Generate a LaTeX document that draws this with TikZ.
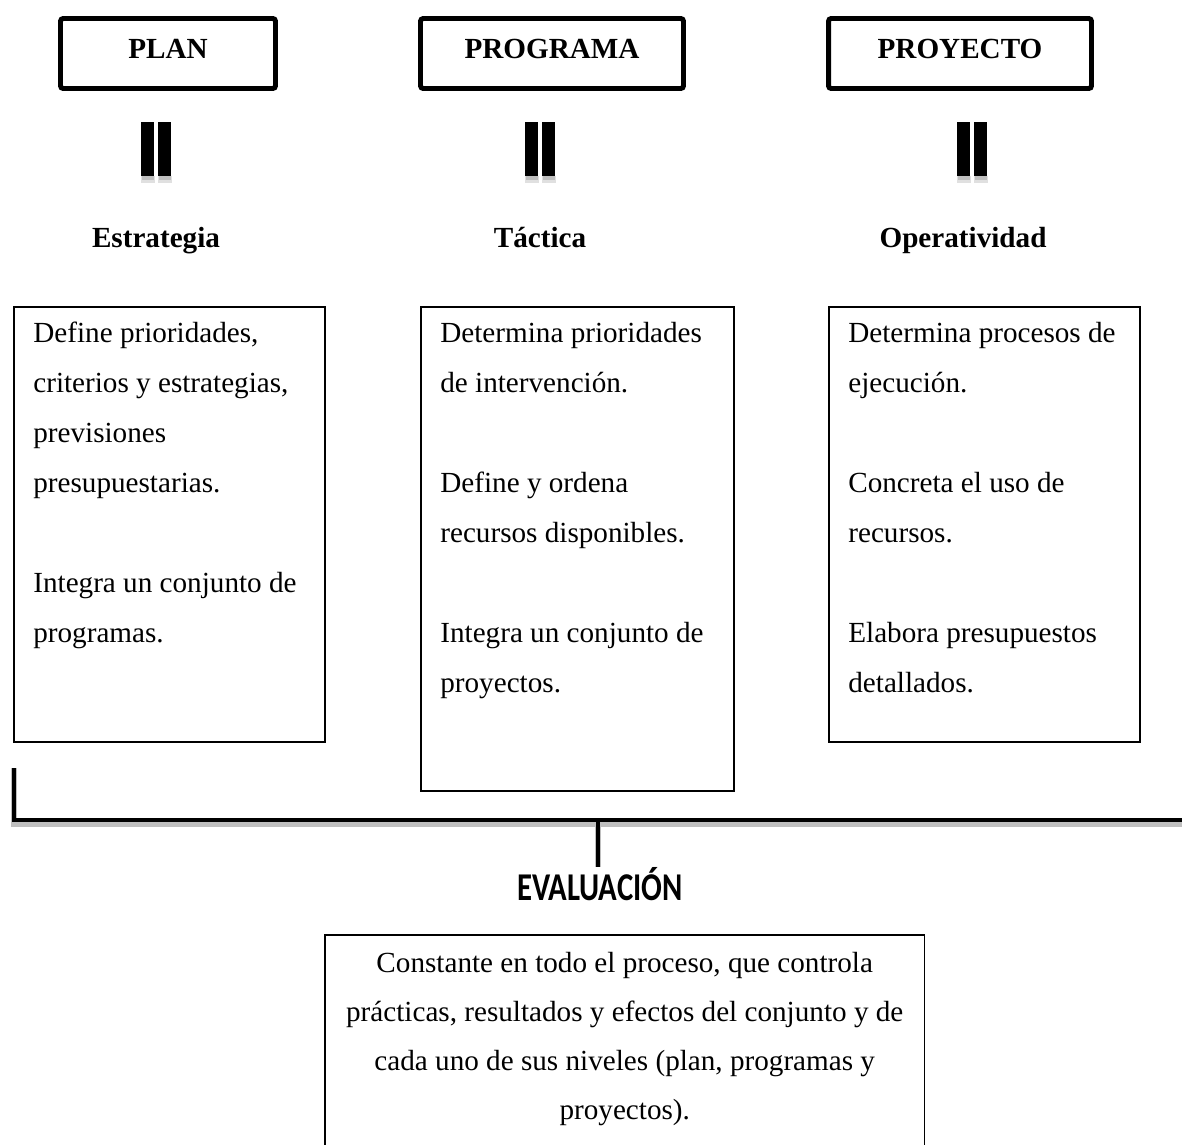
\documentclass[tikz,border=0pt]{standalone}
\usepackage{fontspec}
\usepackage{graphicx}
\setmainfont{Liberation Serif}
\newfontfamily\evalfont{Carlito}
\usetikzlibrary{calc}

\tikzset{
  levelbox/.style={draw, line width=2.8pt, rounded corners=1.5pt, inner sep=0pt,
    text height=0.79cm, text depth=0.61cm, anchor=base,
    font=\bfseries\fontsize{16.6}{20}\selectfont},
  textbox/.style={draw, line width=0.9pt, inner sep=0pt, anchor=north west},
  body/.style={anchor=base west, inner sep=0pt, font=\fontsize{16.6}{20}\selectfont},
  head/.style={anchor=base, inner sep=0pt, font=\bfseries\fontsize{16.6}{20}\selectfont},
  bracket/.style={line width=2.8pt},
  shadowline/.style={black!25, line width=3.4pt, shift={(2,4)}}
}

\begin{document}
\begin{tikzpicture}[x=0.02cm, y=-0.02cm]
    \useasboundingbox (0,0) rectangle (1182,1144);

    % --- Top row: the three levels ---
    \node[levelbox, minimum width=4.3cm] (plan) at (168,58) {PLAN};
    \node[levelbox, minimum width=5.26cm] (programa) at (552,58) {PROGRAMA};
    \node[levelbox, minimum width=5.26cm] (proyecto) at (960,58) {PROYECTO};

    % Equal signs (vertical bars with a soft shadow)
    \foreach \cx in {156,540,972} {
        \fill[black!12] (\cx-15,176) rectangle (\cx-1,183);
        \fill[black!12] (\cx+2,176) rectangle (\cx+16,183);
        \fill[black!25] (\cx-14,176) rectangle (\cx-2,180);
        \fill[black!25] (\cx+3,176) rectangle (\cx+15,180);
        \fill (\cx-15,122) rectangle (\cx-2,176);
        \fill (\cx+2,122) rectangle (\cx+15,176);
    }

    \node[head] (estrategia) at (156,247) {Estrategia};
    \node[head] (tactica) at (540,247) {Táctica};
    \node[head] (operatividad) at (963,247) {Operatividad};

    % --- Description boxes ---
    \node[textbox, minimum width=6.22cm, minimum height=8.7cm] (planbox) at (13,306) {};
    \node[textbox, minimum width=6.26cm, minimum height=9.68cm] (progbox) at (420,306) {};
    \node[textbox, minimum width=6.22cm, minimum height=8.7cm] (proybox) at (828,306) {};

    \foreach \txt [count=\k from 0] in {{Define prioridades,},{criterios y estrategias,},{previsiones},{presupuestarias.},{},{Integra un conjunto de},{programas.}}
        \node[body] (plan-\k) at ($(planbox.north west)+(20,36+50*\k)$) {\txt};
    \foreach \txt [count=\k from 0] in {{Determina prioridades},{de intervención.},{},{Define y ordena},{recursos disponibles.},{},{Integra un conjunto de},{proyectos.}}
        \node[body] (prog-\k) at ($(progbox.north west)+(20,36+50*\k)$) {\txt};
    \foreach \txt [count=\k from 0] in {{Determina procesos de},{ejecución.},{},{Concreta el uso de},{recursos.},{},{Elabora presupuestos},{detallados.}}
        \node[body] (proy-\k) at ($(proybox.north west)+(20,36+50*\k)$) {\txt};

    % --- Bracket joining everything to the evaluation ---
    \node[anchor=base, inner sep=0pt, font=\evalfont\bfseries\fontsize{17.5}{20}\selectfont] (eval) at (600,900) {\scalebox{1}[1.28]{EVALUACIÓN}};
    \coordinate (brL) at (14,768);
    \coordinate (brM) at (598,820);
    \draw[shadowline] (brL) |- (1190,820);
    \draw[shadowline] (brM) -- (brM |- eval.north);
    \draw[bracket] (brL) |- (1190,820);
    \draw[bracket] (brM) -- (brM |- eval.north);

    % --- Evaluation box ---
    \node[textbox, minimum width=12cm, minimum height=4.6cm] (evalbox) at (324,934) {};
    \foreach \txt [count=\k from 0] in {{Constante en todo el proceso, que controla},{prácticas, resultados y efectos del conjunto y de},{cada uno de sus niveles (plan, programas y},{proyectos).}}
        \node[body, anchor=base] (eval-\k) at ($(evalbox.north)+(0,38+49.3*\k)$) {\txt};
\end{tikzpicture}
\end{document}
